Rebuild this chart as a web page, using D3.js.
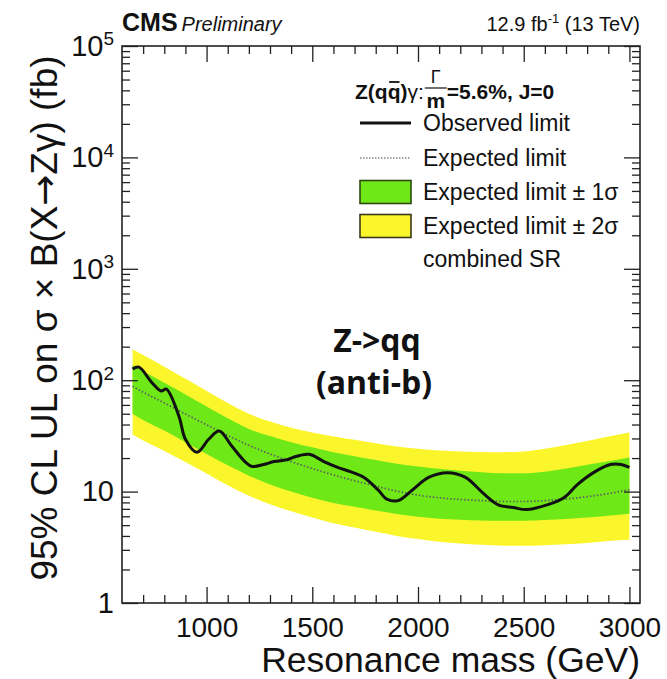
<!DOCTYPE html>
<html>
<head>
<meta charset="utf-8">
<script src="https://cdn.jsdelivr.net/npm/d3@7"></script>
<style>
  body { margin: 0; background: #fff; }
  text { font-family: "Liberation Sans", Arial, Helvetica, sans-serif; fill: #111; }
</style>
</head>
<body>
<svg id="chart" width="667" height="679"></svg>
<script>
// Expected limit and its 1σ / 2σ bands on a coarse mass grid (GeV, fb)
const massGrid   = [650, 700, 800, 900, 1000, 1100, 1200, 1300, 1400, 1500, 1600, 1700, 1800, 1900, 2000, 2100, 2200, 2300, 2400, 2500, 2600, 2700, 2800, 2900, 3000];
const expected   = [88.3, 78, 62.5, 49.8, 39.8, 32, 26, 21.8, 18.6, 16.1, 14.1, 12.5, 11.2, 10.1, 9.3, 8.8, 8.5, 8.3, 8.15, 8.15, 8.3, 8.6, 9.0, 9.6, 10.4];
const sigma2Up   = [190, 168, 132, 103, 80, 62.5, 50, 42.5, 37.5, 34, 31.3, 29.2, 27.2, 25.4, 24.2, 23.4, 22.9, 22.7, 22.6, 22.9, 24.2, 26.2, 28.5, 31.2, 34];
const sigma1Up   = [136.5, 120.5, 95, 74.5, 58, 45.5, 36.5, 31.5, 27.8, 25, 22.6, 20.8, 19.2, 17.8, 16.8, 16.0, 15.4, 14.9, 14.6, 14.6, 15.1, 16.1, 17.4, 18.7, 20.2];
const sigma1Down = [50, 44, 35.3, 27.8, 21.8, 17.2, 13.9, 11.6, 10.0, 8.8, 7.9, 7.3, 6.75, 6.3, 5.95, 5.72, 5.6, 5.5, 5.48, 5.48, 5.55, 5.68, 5.85, 6.08, 6.34];
const sigma2Down = [32.6, 28.8, 23.2, 18.4, 14.5, 11.4, 9.2, 7.7, 6.65, 5.85, 5.2, 4.75, 4.35, 4.0, 3.75, 3.55, 3.42, 3.33, 3.27, 3.26, 3.3, 3.37, 3.46, 3.6, 3.70];

// Observed limit (GeV, fb)
const obsMass  = [650, 680, 740, 785, 810, 870, 900, 955, 1010, 1060, 1120, 1185, 1215, 1270, 1320, 1385, 1410, 1485, 1555, 1620, 1680, 1745, 1810, 1855, 1905, 1975, 2050, 2140, 2225, 2305, 2380, 2450, 2515, 2610, 2690, 2755, 2830, 2910, 2960, 3000];
const observed = [126, 131, 96, 80, 83, 47, 29.5, 22.5, 29.5, 35, 25.5, 18.3, 16.8, 17.5, 18.6, 19.4, 20.3, 21.6, 18.6, 16.5, 15.1, 13.4, 10.4, 8.5, 8.3, 10.4, 13.4, 14.8, 13.4, 9.8, 7.6, 7.2, 6.9, 7.6, 8.8, 11.6, 14.8, 17.5, 17.5, 16.5];

// Axis ticks and labels
const xMajorTicks = [1000, 1500, 2000, 2500, 3000];
const yDecades    = [1, 10, 100, 1000, 10000, 100000];
const legendLabels = ["Observed limit", "Expected limit", "Expected limit \u00b1 1\u03c3", "Expected limit \u00b1 2\u03c3", "combined SR"];

const GREEN = "#6fe817", YELLOW = "#fbf52c";

const svg = d3.select("#chart");
const frame = { left: 122, right: 640, top: 46, bottom: 603 };

const x = d3.scaleLinear().domain([600, 3050]).range([frame.left, frame.right]);
const y = d3.scaleLog().domain([1, 1e5]).range([frame.bottom, frame.top]);

const rows = massGrid.map((m, i) => ({
  m, exp: expected[i], u1: sigma1Up[i], d1: sigma1Down[i], u2: sigma2Up[i], d2: sigma2Down[i]
}));
const obsRows = obsMass.map((m, i) => ({ m, v: observed[i] }));

const band = (lo, hi) => d3.area()
  .x(d => x(d.m)).y0(d => y(d[lo])).y1(d => y(d[hi]))
  .curve(d3.curveMonotoneX);

svg.append("path").datum(rows).attr("d", band("d2", "u2")).attr("fill", YELLOW);
svg.append("path").datum(rows).attr("d", band("d1", "u1")).attr("fill", GREEN);

svg.append("path").datum(rows)
  .attr("d", d3.line().x(d => x(d.m)).y(d => y(d.exp)).curve(d3.curveMonotoneX))
  .attr("fill", "none").attr("stroke", "#5e5e5e").attr("stroke-width", 1.7)
  .attr("stroke-dasharray", "1.5,2");

svg.append("path").datum(obsRows)
  .attr("d", d3.line().x(d => x(d.m)).y(d => y(d.v)).curve(d3.curveCatmullRom.alpha(0.5)))
  .attr("fill", "none").attr("stroke", "#111").attr("stroke-width", 3)
  .attr("stroke-linejoin", "round");

// ---- axes: inward ticks on all four sides ----
const xMinor = d3.range(700, 3001, 100).filter(v => !xMajorTicks.includes(v));
const yMinor = [];
yDecades.slice(0, -1).forEach(d => { for (let k = 2; k <= 9; k++) yMinor.push(d * k); });

function styleAxis(g) {
  g.select(".domain").remove();
  g.selectAll(".tick line").attr("stroke", "#222").attr("stroke-width", 1.3);
}

const axisBottomG = svg.append("g").attr("transform", `translate(0,${frame.bottom})`);
axisBottomG.append("g").call(d3.axisBottom(x).tickValues(xMinor).tickSize(-8).tickFormat("")).call(styleAxis);
axisBottomG.append("g")
  .call(d3.axisBottom(x).tickValues(xMajorTicks).tickSize(-16).tickPadding(14).tickFormat(d3.format("d")))
  .call(styleAxis)
  .call(g => g.selectAll("text").attr("font-size", 28).attr("fill", "#111")
    .style("font-family", '"Liberation Sans", Arial, sans-serif'));

const axisTopG = svg.append("g").attr("transform", `translate(0,${frame.top})`);
axisTopG.append("g").call(d3.axisTop(x).tickValues(xMinor).tickSize(-8).tickFormat("")).call(styleAxis);
axisTopG.append("g").call(d3.axisTop(x).tickValues(xMajorTicks).tickSize(-16).tickFormat("")).call(styleAxis);

const axisLeftG = svg.append("g").attr("transform", `translate(${frame.left},0)`);
axisLeftG.append("g").call(d3.axisLeft(y).tickValues(yMinor).tickSize(-8).tickFormat("")).call(styleAxis);
axisLeftG.append("g")
  .call(d3.axisLeft(y).tickValues(yDecades).tickSize(-16).tickPadding(8).tickFormat(() => ""))
  .call(styleAxis)
  .call(g => g.selectAll(".tick text").each(function (d) {
    const t = d3.select(this).attr("font-size", 29).attr("fill", "#111")
      .style("font-family", '"Liberation Sans", Arial, sans-serif');
    const p = Math.round(Math.log10(d));
    if (p <= 1) {
      t.text(String(d));
    } else {
      t.append("tspan").text("10");
      t.append("tspan").attr("font-size", 19).attr("dy", "-0.55em").text(String(p));
    }
  }));

const axisRightG = svg.append("g").attr("transform", `translate(${frame.right},0)`);
axisRightG.append("g").call(d3.axisRight(y).tickValues(yMinor).tickSize(-8).tickFormat("")).call(styleAxis);
axisRightG.append("g").call(d3.axisRight(y).tickValues(yDecades).tickSize(-16).tickFormat("")).call(styleAxis);

// frame
svg.append("rect")
  .attr("x", frame.left).attr("y", frame.top)
  .attr("width", frame.right - frame.left).attr("height", frame.bottom - frame.top)
  .attr("fill", "none").attr("stroke", "#222").attr("stroke-width", 1.6);

// ---- axis titles ----
svg.append("text")
  .attr("x", frame.right).attr("y", 672)
  .attr("text-anchor", "end").attr("font-size", 35.5)
  .text("Resonance mass (GeV)");

const yTitle = svg.append("text")
  .attr("transform", `translate(57,318) rotate(-90)`)
  .attr("text-anchor", "middle").attr("font-size", 37);
yTitle.append("tspan").text("95% CL UL on \u03c3 \u00d7 B(X");
yTitle.append("tspan").style("font-family", '"DejaVu Sans", sans-serif').text("\u2192");
yTitle.append("tspan").text("Z\u03b3) (fb)");

// ---- header ----
const cms = svg.append("text").attr("x", frame.left).attr("y", 31);
cms.append("tspan").attr("font-weight", "bold").attr("font-size", 25).text("CMS");
cms.append("tspan").attr("font-style", "italic").attr("font-size", 20).attr("dx", 4).text("Preliminary");

const lumi = svg.append("text").attr("x", frame.right).attr("y", 31)
  .attr("text-anchor", "end").attr("font-size", 20);
lumi.append("tspan").text("12.9 fb");
lumi.append("tspan").attr("font-size", 13).attr("dy", -8).text("-1");
lumi.append("tspan").attr("dy", 8).text(" (13 TeV)");

// ---- legend ----
const lg = svg.append("g");
// header: Z(q q̄)γ: Γ/m = 5.6%, J=0
let cx = 355;
const hdrY = 99;
const hdrSize = 21;
function piece(str, opts) {
  const t = lg.append("text").attr("x", cx).attr("y", hdrY)
    .attr("font-size", opts.size ?? hdrSize).attr("font-weight", opts.bold === false ? "normal" : "bold")
    .text(str);
  return t.node().getComputedTextLength();
}
cx += piece("Z(q", {});
let qw = piece("q", {});
lg.append("line").attr("x1", cx + 1.5).attr("x2", cx + qw - 1)
  .attr("y1", hdrY - 17).attr("y2", hdrY - 17).attr("stroke", "#111").attr("stroke-width", 1.8);
cx += qw;
cx += piece(")", {});
cx += piece("\u03b3: ", { bold: false }) + 1;
const fracX = cx;
lg.append("text").attr("x", fracX + 11).attr("y", hdrY - 16).attr("text-anchor", "middle")
  .attr("font-size", 18).text("\u0393");
lg.append("text").attr("x", fracX + 11).attr("y", hdrY + 9).attr("text-anchor", "middle")
  .attr("font-size", 21).attr("font-weight", "bold").text("m");
lg.append("line").attr("x1", fracX).attr("x2", fracX + 22)
  .attr("y1", hdrY - 11).attr("y2", hdrY - 11).attr("stroke", "#111").attr("stroke-width", 1.2);
cx = fracX + 22;
piece("=5.6%, J=0", {});

const rowY = [123, 158, 192, 226, 259];
const textX = 423;
legendLabels.forEach((lab, i) => {
  lg.append("text").attr("x", textX).attr("y", rowY[i] + 8).attr("font-size", 23).attr("fill", "#222").text(lab);
});
lg.append("line").attr("x1", 360).attr("x2", 411).attr("y1", rowY[0]).attr("y2", rowY[0])
  .attr("stroke", "#111").attr("stroke-width", 3);
lg.append("line").attr("x1", 360).attr("x2", 411).attr("y1", rowY[1]).attr("y2", rowY[1])
  .attr("stroke", "#888").attr("stroke-width", 1.5).attr("stroke-dasharray", "1.5,1.5");
lg.append("rect").attr("x", 360).attr("y", rowY[2] - 11.5).attr("width", 51).attr("height", 23)
  .attr("fill", GREEN).attr("stroke", "#2c4a12").attr("stroke-width", 1.6);
lg.append("rect").attr("x", 360).attr("y", rowY[3] - 11.5).attr("width", 51).attr("height", 23)
  .attr("fill", YELLOW).attr("stroke", "#3a3a1a").attr("stroke-width", 1.6);

// ---- channel annotation ----
const annStyle = t => t.attr("text-anchor", "middle")
  .style("font-family", '"Open Sans", "Noto Sans", sans-serif')
  .attr("font-weight", "bold").attr("font-size", 32);
svg.append("text").call(annStyle).attr("x", 377).attr("y", 352).text("Z->qq");
svg.append("text").call(annStyle).attr("x", 374).attr("y", 394).text("(anti-b)");
</script>
</body>
</html>
